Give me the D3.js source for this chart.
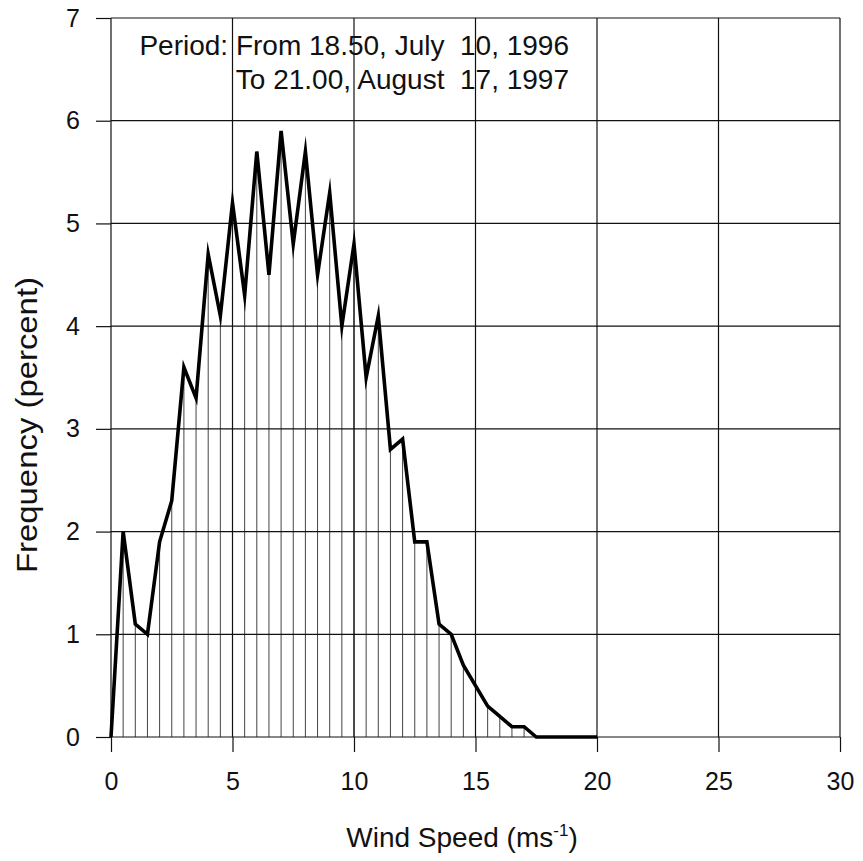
<!DOCTYPE html>
<html>
<head>
<meta charset="utf-8">
<script src="https://cdn.jsdelivr.net/npm/d3@7"></script>
<style>
  html, body { margin: 0; padding: 0; background: #fff; }
  svg { display: block; }
  text { font-family: "Liberation Sans", Arial, sans-serif; fill: #111; }
</style>
</head>
<body>
<svg id="chart" width="863" height="861"></svg>
<script>
// Wind speed classes (m/s), 0.5 m/s bins
const windSpeed = [
  0, 0.5, 1, 1.5, 2, 2.5, 3, 3.5, 4, 4.5,
  5, 5.5, 6, 6.5, 7, 7.5, 8, 8.5, 9, 9.5,
  10, 10.5, 11, 11.5, 12, 12.5, 13, 13.5, 14, 14.5,
  15, 15.5, 16, 16.5, 17, 17.5, 18, 18.5, 19, 19.5, 20
];
// Frequency of occurrence (percent) for each class
const frequency = [
  0, 2.0, 1.1, 1.0, 1.9, 2.3, 3.6, 3.3, 4.7, 4.1,
  5.2, 4.3, 5.7, 4.5, 5.9, 4.8, 5.7, 4.5, 5.3, 4.0,
  4.8, 3.5, 4.1, 2.8, 2.9, 1.9, 1.9, 1.1, 1.0, 0.7,
  0.5, 0.3, 0.2, 0.1, 0.1, 0, 0, 0, 0, 0, 0
];
const xTicks = [0, 5, 10, 15, 20, 25, 30];
const yTicks = [0, 1, 2, 3, 4, 5, 6, 7];
const periodLines = ["Period: From 18.50, July  10, 1996", "To 21.00, August  17, 1997"];

const svg = d3.select("#chart");
const margin = { top: 18, right: 23, bottom: 124, left: 111 };
const W = 863, H = 861;
const iw = W - margin.left - margin.right;
const ih = H - margin.top - margin.bottom;

const x = d3.scaleLinear().domain([0, 30]).range([0, iw]);
const y = d3.scaleLinear().domain([0, 7]).range([ih, 0]);

const g = svg.append("g").attr("transform", `translate(${margin.left},${margin.top})`);

const data = windSpeed.map((s, i) => ({ s, f: frequency[i] }));

// Drop lines from each class value to the axis
g.append("g").selectAll("line").data(data).join("line")
  .attr("x1", d => x(d.s)).attr("x2", d => x(d.s))
  .attr("y1", y(0)).attr("y2", d => y(d.f))
  .attr("stroke", "#444").attr("stroke-width", 1);

// Grid
g.append("g").selectAll("line").data(yTicks).join("line")
  .attr("x1", 0).attr("x2", iw)
  .attr("y1", d => y(d)).attr("y2", d => y(d))
  .attr("stroke", "#111").attr("stroke-width", 1.2);
g.append("g").selectAll("line").data(xTicks).join("line")
  .attr("x1", d => x(d)).attr("x2", d => x(d))
  .attr("y1", 0).attr("y2", ih)
  .attr("stroke", "#111").attr("stroke-width", 1.2);

// Axes
const xAxis = g.append("g").attr("transform", `translate(0,${ih})`)
  .call(d3.axisBottom(x).tickValues(xTicks).tickSize(15).tickPadding(20).tickFormat(d3.format("d")));
const yAxis = g.append("g")
  .call(d3.axisLeft(y).tickValues(yTicks).tickSize(15).tickPadding(16).tickFormat(d3.format("d")));
[xAxis, yAxis].forEach(a => {
  a.select(".domain").remove();
  a.selectAll(".tick line").attr("stroke", "#111").attr("stroke-width", 1.2);
  a.selectAll(".tick text").attr("font-size", 25).attr("font-family", "Liberation Sans, Arial, sans-serif").attr("fill", "#111");
});

// Frequency curve
const line = d3.line().x(d => x(d.s)).y(d => y(d.f));
g.append("path").datum(data)
  .attr("d", line)
  .attr("fill", "none")
  .attr("stroke", "#000")
  .attr("stroke-width", 3.6)
  .attr("stroke-linejoin", "miter")
  .attr("stroke-miterlimit", 10);

// Observation period note
const note = svg.append("text")
  .attr("font-size", 28)
  .attr("text-anchor", "end")
  .style("white-space", "pre");
periodLines.forEach((t, i) => {
  note.append("tspan").attr("x", 569).attr("y", 55 + i * 34).text(t);
});

// Axis titles
const xt = svg.append("text")
  .attr("x", 462).attr("y", 847)
  .attr("text-anchor", "middle")
  .attr("font-size", 28);
xt.append("tspan").text("Wind Speed (ms");
xt.append("tspan").attr("font-size", 17).attr("dy", -11).text("-1");
xt.append("tspan").attr("dy", 11).text(")");

svg.append("text")
  .attr("transform", "translate(37,425) rotate(-90)")
  .attr("text-anchor", "middle")
  .attr("font-size", 29)
  .attr("textLength", 296)
  .attr("lengthAdjust", "spacingAndGlyphs")
  .text("Frequency (percent)");
</script>
</body>
</html>
